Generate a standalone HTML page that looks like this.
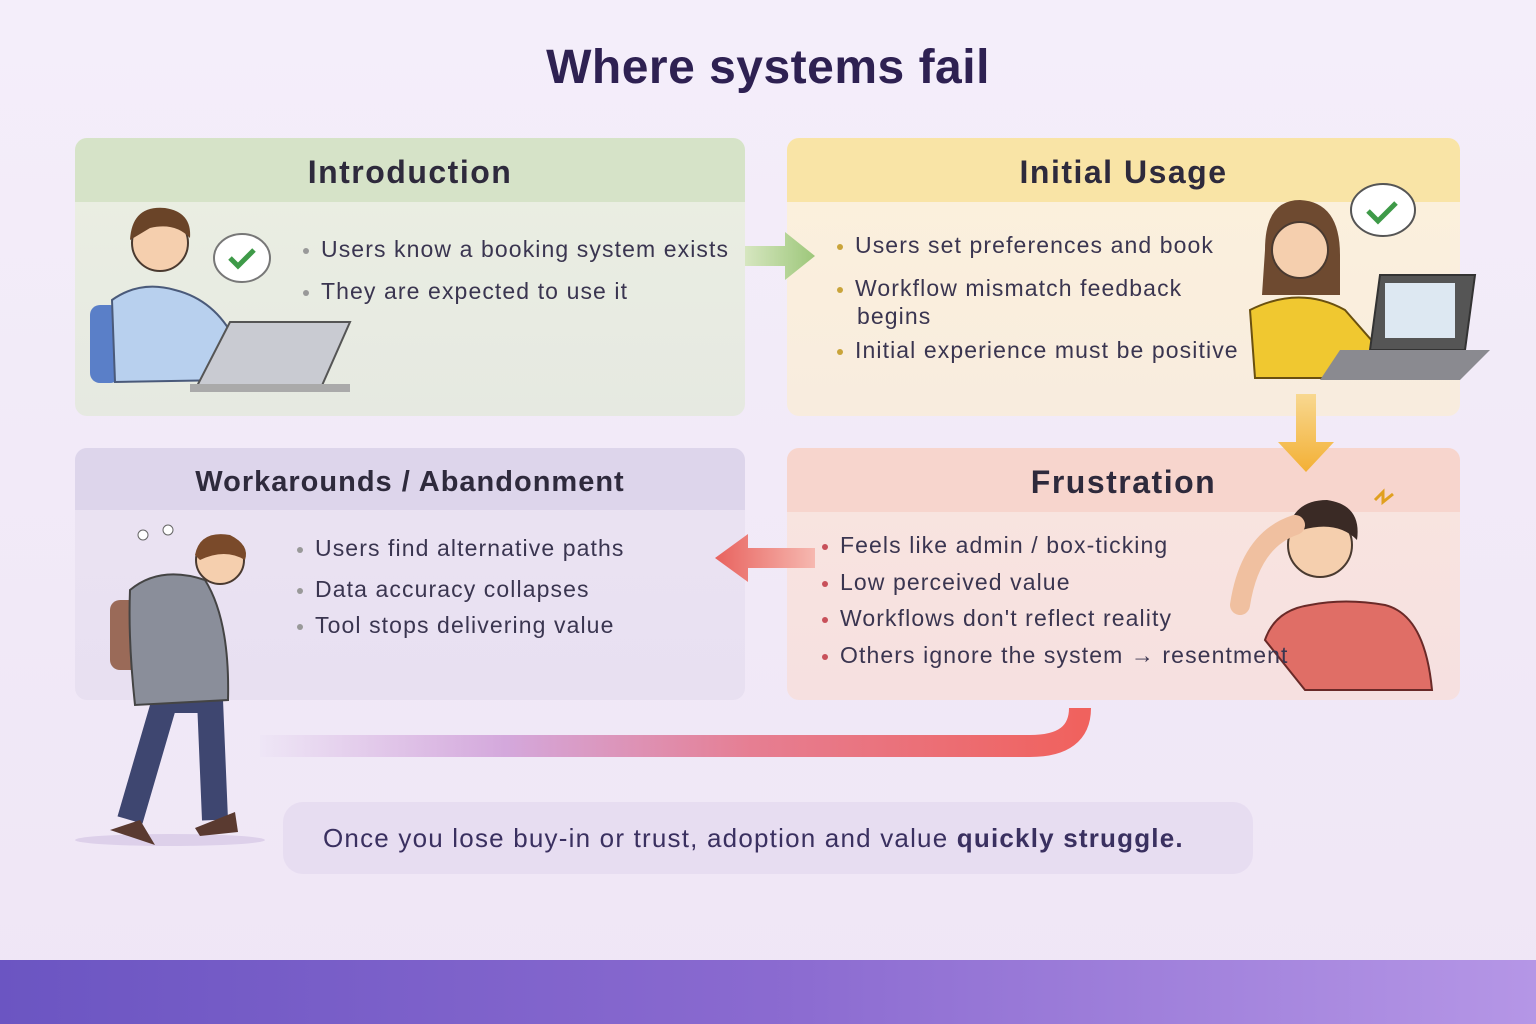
<!DOCTYPE html>
<html><head><meta charset="utf-8"><style>
*{margin:0;padding:0;box-sizing:border-box}
body{width:1536px;height:1024px;overflow:hidden;position:relative;font-family:"Liberation Sans",sans-serif;background:linear-gradient(180deg,#f4eefa 0%,#f1e9f7 60%,#efe6f6 100%);color:#2f2a4a}
.title{position:absolute;top:40px;left:0;width:1536px;text-align:center;font-size:48px;font-weight:bold;color:#2e2152;letter-spacing:0.5px}
.card{position:absolute;border-radius:12px;overflow:hidden}
.hd{height:64px;text-align:center;font-size:32px;line-height:68px;color:#2e2a3c;font-weight:bold;letter-spacing:1.5px}
.bul{position:absolute;font-size:23px;color:#3a3550;line-height:28px;letter-spacing:1.1px;white-space:nowrap}
.bul span.d{display:inline-block;width:6px;height:6px;border-radius:3px;margin-right:12px;vertical-align:middle}
.band{position:absolute;left:0;top:960px;width:1536px;height:64px;background:linear-gradient(90deg,#6b55c2,#8a6ad0 50%,#b596e6)}
.foot{position:absolute;left:283px;top:802px;width:970px;height:72px;border-radius:20px;background:#e7ddf1;font-size:26px;line-height:72px;padding-left:40px;color:#3a3060;letter-spacing:1.2px;white-space:nowrap}
</style></head><body>
<div class="title">Where systems fail</div>

<div class="card" style="left:75px;top:138px;width:670px;height:278px;background:linear-gradient(180deg,#ebefe3,#e6e9e1)">
<div class="hd" style="background:#d6e3c8">Introduction</div></div>
<div class="card" style="left:787px;top:138px;width:673px;height:278px;background:linear-gradient(180deg,#fcf1dc,#f8ecde)">
<div class="hd" style="background:#f9e4a6">Initial Usage</div></div>
<div class="card" style="left:75px;top:448px;width:670px;height:252px;background:linear-gradient(180deg,#ebe3f3,#e8e0f1)">
<div class="hd" style="background:#ddd5eb;height:62px;font-size:29px;letter-spacing:1px">Workarounds / Abandonment</div></div>
<div class="card" style="left:787px;top:448px;width:673px;height:252px;background:linear-gradient(180deg,#f9e5df,#f6e0e0)">
<div class="hd" style="background:#f7d5cd">Frustration</div></div>

<div class="bul" style="left:303px;top:235px"><span class="d" style="background:#999"></span>Users know a booking system exists</div>
<div class="bul" style="left:303px;top:277px"><span class="d" style="background:#999"></span>They are expected to use it</div>

<div class="bul" style="left:837px;top:231px"><span class="d" style="background:#c9a43a"></span>Users set preferences and book</div>
<div class="bul" style="left:837px;top:274px"><span class="d" style="background:#c9a43a"></span>Workflow mismatch feedback<br><span style="padding-left:20px">begins</span></div>
<div class="bul" style="left:837px;top:336px"><span class="d" style="background:#c9a43a"></span>Initial experience must be positive</div>

<div class="bul" style="left:297px;top:534px"><span class="d" style="background:#999"></span>Users find alternative paths</div>
<div class="bul" style="left:297px;top:575px"><span class="d" style="background:#999"></span>Data accuracy collapses</div>
<div class="bul" style="left:297px;top:611px"><span class="d" style="background:#999"></span>Tool stops delivering value</div>

<svg style="position:absolute;left:0;top:0" width="1536" height="1024">
<defs>
<linearGradient id="ga" x1="0" x2="1"><stop offset="0" stop-color="#d6e6c0"/><stop offset="1" stop-color="#9dc77a"/></linearGradient>
<linearGradient id="go" x1="0" y1="0" x2="0" y2="1"><stop offset="0" stop-color="#f8d890"/><stop offset="1" stop-color="#f3b035"/></linearGradient>
<linearGradient id="gr" x1="1" x2="0"><stop offset="0" stop-color="#f6b8b0"/><stop offset="1" stop-color="#e8625e"/></linearGradient>
<linearGradient id="gc" x1="0" x2="1"><stop offset="0" stop-color="#eee6f6"/><stop offset="0.3" stop-color="#d4a8dc"/><stop offset="0.6" stop-color="#e67e92"/><stop offset="1" stop-color="#f0625e"/></linearGradient>
</defs>
<path d="M745 246 H785 V232 L815 256 L785 280 V266 H745 Z" fill="url(#ga)"/>
<path d="M1296 394 V442 H1278 L1306 472 L1334 442 H1316 V394 Z" fill="url(#go)"/>
<path d="M815 548 H748 V534 L715 558 L748 582 V568 H815 Z" fill="url(#gr)"/>
<path d="M260 746 H1030 Q1080 746 1080 708" stroke="url(#gc)" stroke-width="22" fill="none"/>
<!-- intro figure -->
<rect x="90" y="305" width="30" height="78" rx="10" fill="#5a7fc8"/>
<path d="M112 300 Q140 280 175 290 Q215 300 235 340 L230 380 L115 382 Z" fill="#b8d0ee" stroke="#4a5a7a" stroke-width="2"/>
<circle cx="160" cy="243" r="28" fill="#f5cfae" stroke="#4a3a30" stroke-width="2"/>
<path d="M130 240 Q132 205 165 208 Q192 212 190 238 Q175 222 150 228 Z" fill="#6a4428"/>
<path d="M195 390 L230 322 H350 L320 390 Z" fill="#c9cbd2" stroke="#555" stroke-width="2"/>
<rect x="190" y="384" width="160" height="8" fill="#aaa"/>
<ellipse cx="242" cy="258" rx="28" ry="24" fill="#fff" stroke="#777" stroke-width="2"/>
<path d="M230 258 l8 8 l16 -16" stroke="#3e9a48" stroke-width="5" fill="none"/>
<!-- usage figure -->
<ellipse cx="1383" cy="210" rx="32" ry="26" fill="#fff" stroke="#555" stroke-width="2"/>
<path d="M1368 211 l10 10 l18 -18" stroke="#3e9a48" stroke-width="5" fill="none"/>
<path d="M1265 250 Q1265 200 1300 200 Q1340 202 1340 255 L1340 295 L1262 295 Z" fill="#6e4a30"/>
<circle cx="1300" cy="250" r="28" fill="#f5cfae" stroke="#4a3a30" stroke-width="2"/>
<path d="M1250 310 Q1300 285 1345 310 L1380 350 L1360 378 L1255 378 Z" fill="#f0c830" stroke="#6a5010" stroke-width="2"/>
<path d="M1380 275 L1475 275 L1465 350 L1370 350 Z" fill="#555" stroke="#333" stroke-width="2"/>
<rect x="1385" y="283" width="70" height="55" fill="#dde8f2"/>
<path d="M1340 350 H1490 L1460 380 H1320 Z" fill="#8a8a90"/>
<!-- frustration figure -->
<path d="M1265 640 Q1275 610 1310 605 Q1345 598 1385 605 Q1425 615 1432 690 L1305 690 Z" fill="#e06e66" stroke="#6a2a28" stroke-width="2"/>
<circle cx="1320" cy="545" r="32" fill="#f5cfae" stroke="#4a3a30" stroke-width="2"/>
<path d="M1287 535 Q1292 500 1327 500 Q1362 505 1357 540 Q1337 520 1302 530 Z" fill="#3a2a25"/>
<path d="M1240 605 Q1250 540 1295 525" stroke="#f0c0a0" stroke-width="20" fill="none" stroke-linecap="round"/>
<path d="M1375 500 l8 -8 l0 10 l10 -8" stroke="#e0a020" stroke-width="3" fill="none"/>
<!-- walking figure -->
<ellipse cx="170" cy="840" rx="95" ry="6" fill="#ddd0ea"/>
<circle cx="168" cy="530" r="5" fill="#fff" stroke="#666"/><circle cx="143" cy="535" r="5" fill="#fff" stroke="#666"/>
<path d="M130 820 L165 700 L210 700 L215 820" stroke="#3e4670" stroke-width="26" fill="none"/>
<path d="M110 830 L140 820 L155 845 Z" fill="#5a3a30"/><path d="M195 828 L235 812 L238 832 L200 836 Z" fill="#5a3a30"/>
<rect x="110" y="600" width="35" height="70" rx="10" fill="#9a6a58"/>
<path d="M130 590 Q160 565 205 580 Q230 620 228 700 L135 705 Q128 640 130 590 Z" fill="#8a8e9a" stroke="#444" stroke-width="2"/>
<circle cx="220" cy="560" r="24" fill="#f5cfae" stroke="#4a3a30" stroke-width="2"/>
<path d="M195 555 Q200 530 230 535 Q250 545 245 560 Q225 548 200 560 Z" fill="#7a4a2a"/>
</svg>

<div class="bul" style="left:822px;top:531px"><span class="d" style="background:#c8505a"></span>Feels like admin / box-ticking</div>
<div class="bul" style="left:822px;top:568px"><span class="d" style="background:#c8505a"></span>Low perceived value</div>
<div class="bul" style="left:822px;top:604px"><span class="d" style="background:#c8505a"></span>Workflows don't reflect reality</div>
<div class="bul" style="left:822px;top:641px"><span class="d" style="background:#c8505a"></span>Others ignore the system → resentment</div>

<div class="foot">Once you lose buy-in or trust, adoption and value <b>quickly struggle.</b></div>
<div class="band"></div>
</body></html>
